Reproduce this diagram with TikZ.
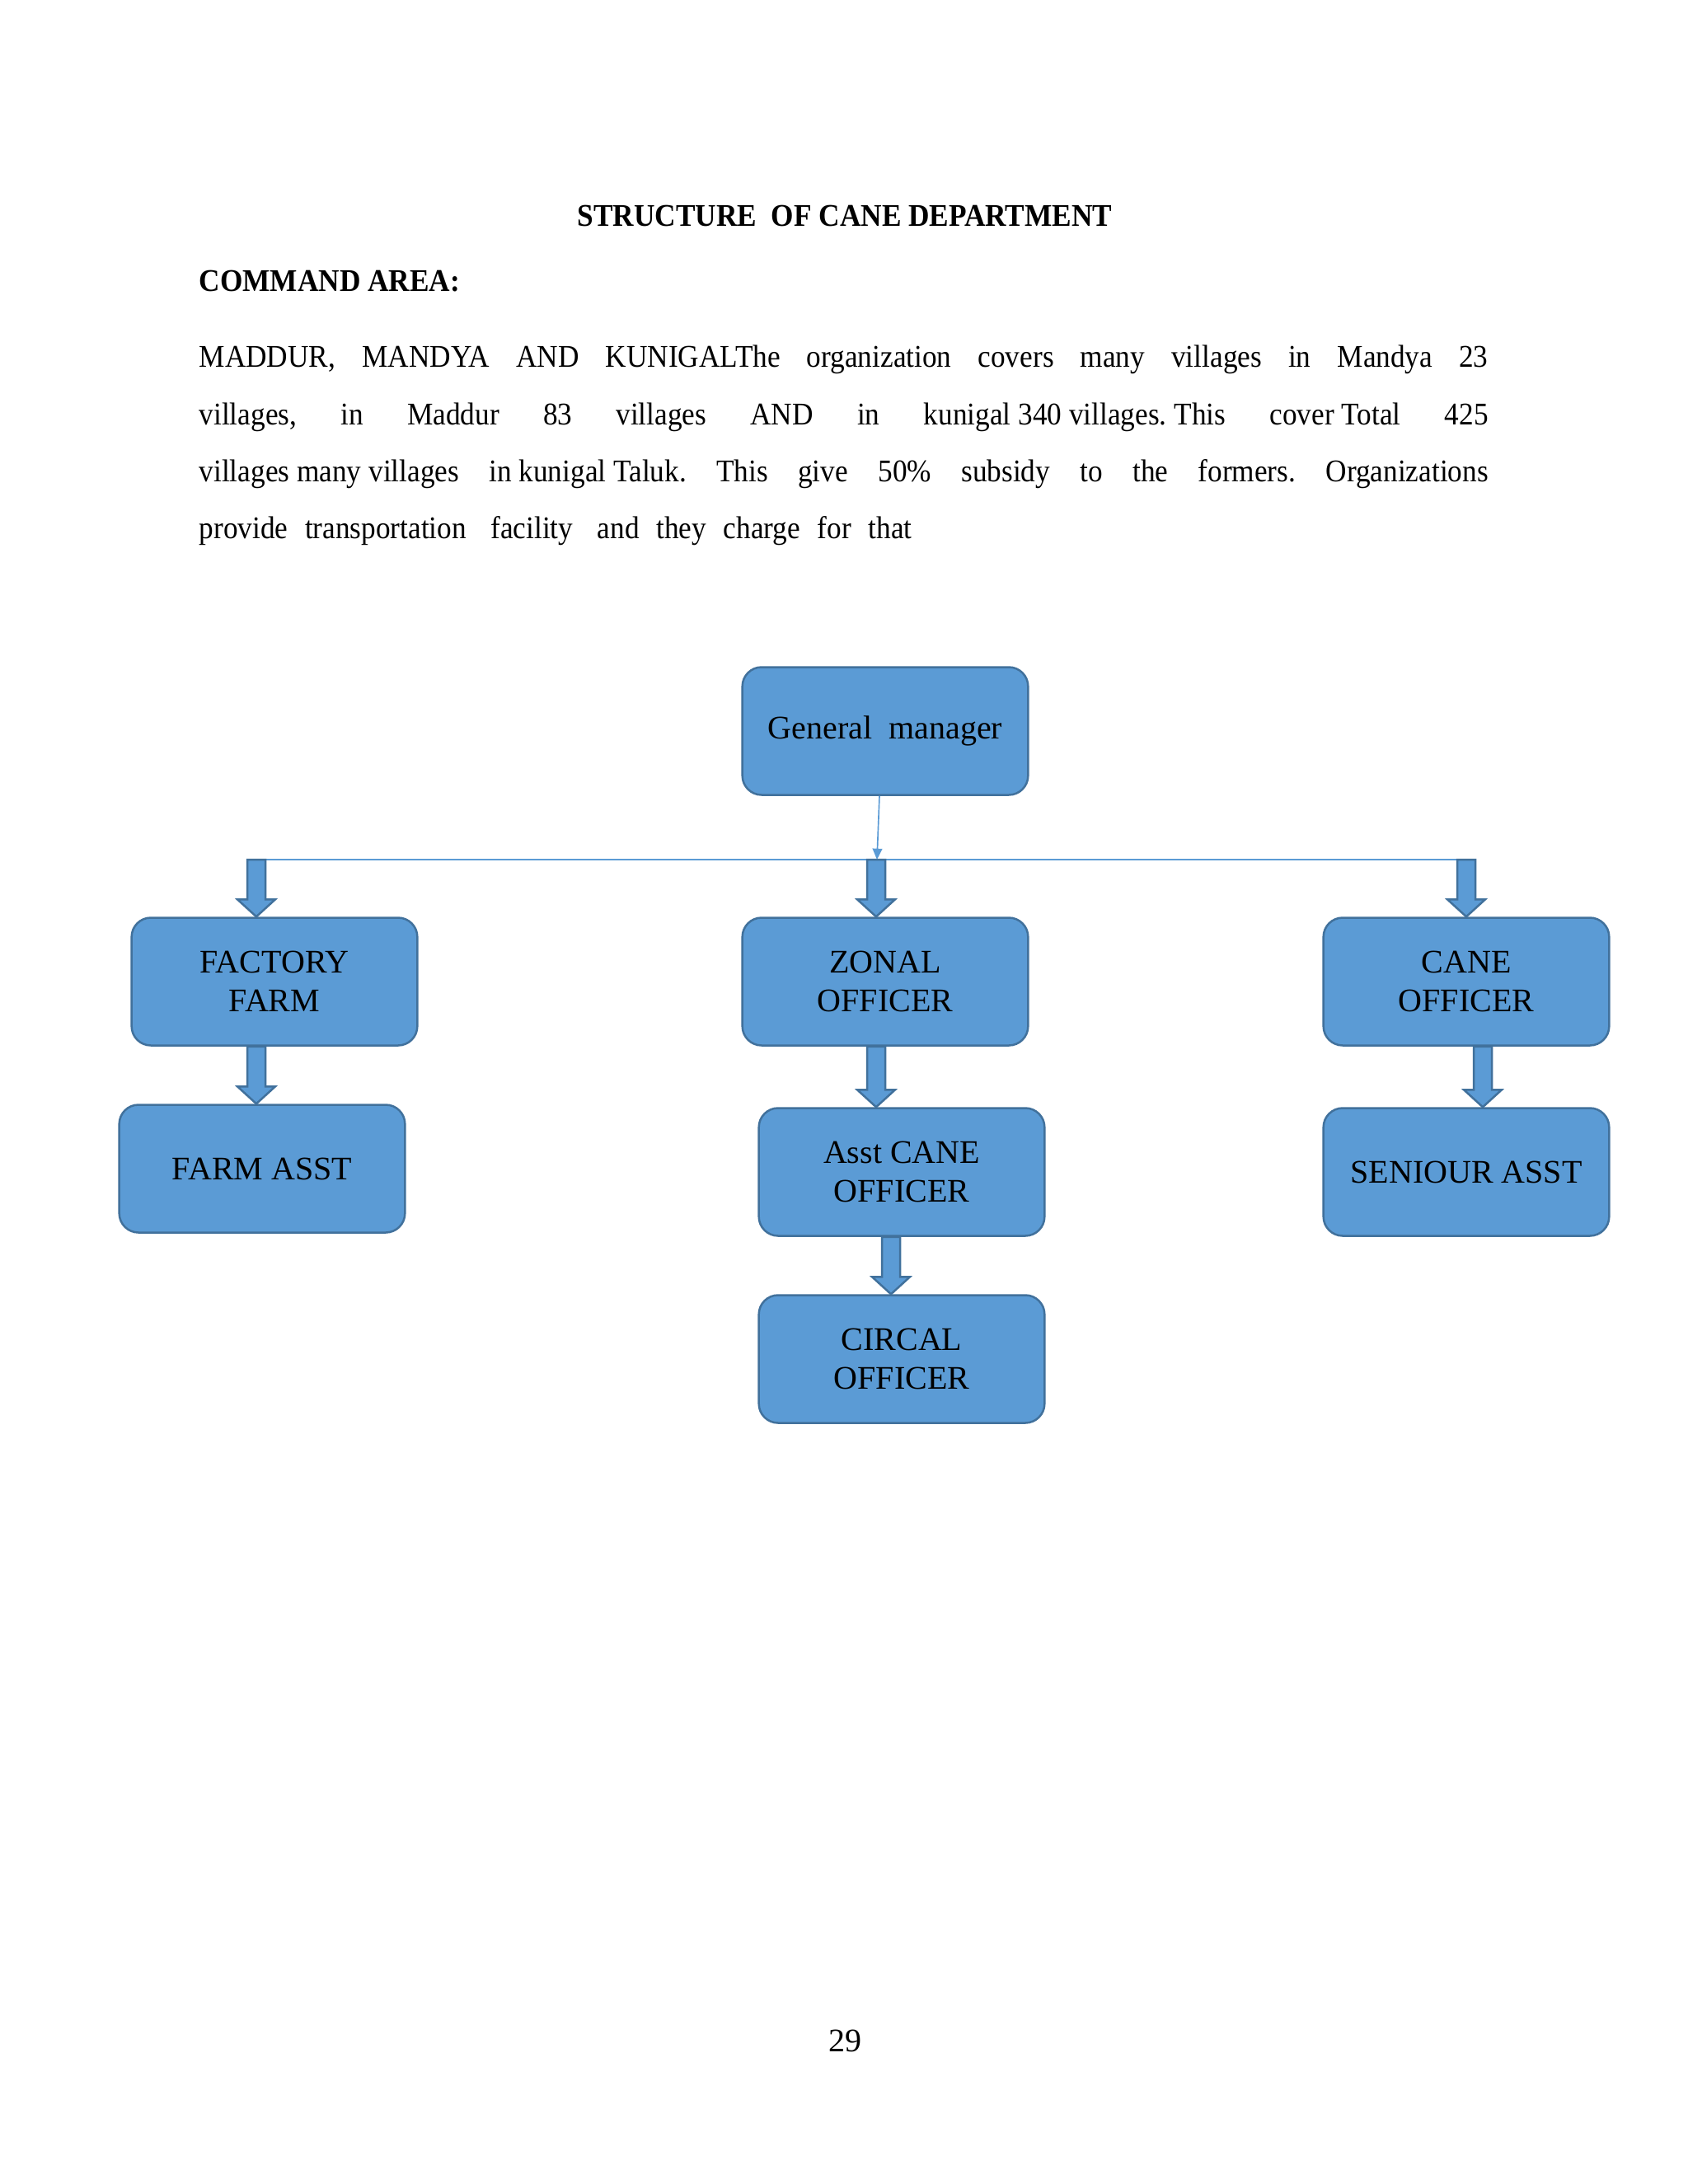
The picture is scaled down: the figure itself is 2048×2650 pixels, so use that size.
\documentclass[tikz,border=0pt]{standalone}
\usepackage{fontspec}
\setmainfont{Liberation Serif}
\usetikzlibrary{arrows.meta,calc}
\frenchspacing

\definecolor{boxfill}{HTML}{5B9BD5}
\definecolor{boxedge}{HTML}{41719C}

\tikzset{
  orgbox/.style={draw=boxedge, fill=boxfill, line width=.75pt, rounded corners=7pt,
    minimum width=104pt, minimum height=46.5pt, align=center, inner sep=2pt,
    font=\fontsize{12}{14}\selectfont},
  blockarr/.style={draw=boxedge, fill=boxfill, line width=.75pt, line join=miter},
  busline/.style={draw=boxfill, line width=.5pt},
  thinarr/.style={draw=boxfill, line width=.5pt, -{Triangle[length=4pt,width=3.5pt]}},
  headline/.style={inner sep=0pt, font=\fontsize{11.5}{14}\selectfont\bfseries},
  bodyline/.style={anchor=base west, inner sep=0pt, font=\fontsize{11.5}{14}\selectfont},
}

\newcommand\narrowtext[1]{\scalebox{.92}[1]{#1}}
\newcommand\tsp{\hspace{.25em}}
\newcommand\blockarrow[2]{%
  \draw[blockarr] let \p1=(#1), \p2=(#2) in
    (\x1-3.3pt,\y1) -- (\x1-3.3pt,\y2+6.3pt) -- (\x1-6.9pt,\y2+6.3pt)
    -- (\x1,\y2) -- (\x1+6.9pt,\y2+6.3pt) -- (\x1+3.3pt,\y2+6.3pt)
    -- (\x1+3.3pt,\y1) -- cycle;}

\begin{document}
\begin{tikzpicture}[x=0.3pt, y=-0.3pt]
  \fill[white] (0,0) rectangle (2048,2650);
  \useasboundingbox (0,0) rectangle (2048,2650);

  \node[headline, anchor=base] (title) at (1025,274)
    {\narrowtext{STRUCTURE\ \ OF CANE DEPARTMENT}};
  \node[headline, anchor=base west] (area) at (241,353)
    {\narrowtext{COMMAND AREA:}};

  \node[bodyline] (line1) at (241,445) {\narrowtext{\makebox[510pt][s]{MADDUR, MANDYA AND KUNIGALThe organization covers many villages in Mandya 23}}};
  \node[bodyline] (line2) at (241,515) {\narrowtext{\makebox[510pt][s]{villages, in Maddur 83 villages AND in kunigal\tsp 340\tsp villages.\tsp This cover\tsp Total 425}}};
  \node[bodyline] (line3) at (241,584) {\narrowtext{\makebox[510pt][s]{villages\tsp many\tsp villages in\tsp kunigal\tsp Taluk. This give 50\% subsidy to the formers. Organizations}}};
  \node[bodyline] (line4) at (241,653) {\narrowtext{\makebox[282pt][s]{provide transportation \tsp facility \tsp and they charge for that}}};

  \node[orgbox] (gm) at (1074,887) {General\ \ manager};
  \node[orgbox] (ff) at (333,1191) {FACTORY\\FARM};
  \node[orgbox] (fa) at (318,1418) {FARM ASST};
  \node[orgbox] (zo) at (1074,1191) {ZONAL\\OFFICER};
  \node[orgbox] (ac) at (1094,1422) {Asst CANE\\OFFICER};
  \node[orgbox] (co) at (1094,1649) {CIRCAL\\OFFICER};
  \node[orgbox] (ca) at (1779,1191) {CANE\\OFFICER};
  \node[orgbox] (sa) at (1779,1422) {SENIOUR ASST};

  \coordinate (bus-l) at (311,1043);
  \coordinate (bus-m) at (1064,1043);
  \coordinate (bus-z) at (1063,1043);
  \coordinate (bus-r) at (1779,1043);
  \coordinate (gm-out) at ($(gm.south)+(-7,0)$);

  \draw[busline] (bus-l) -- (bus-r);
  \draw[thinarr] (gm-out) -- (bus-m);

  \blockarrow{bus-l}{ff.north}
  \blockarrow{$(ff.south)+(-22,0)$}{fa.north}
  \blockarrow{bus-z}{zo.north}
  \blockarrow{$(zo.south)+(-11,0)$}{ac.north}
  \blockarrow{$(ac.south)+(-13,0)$}{co.north}
  \blockarrow{bus-r}{ca.north}
  \blockarrow{$(ca.south)+(20,0)$}{sa.north}

  \node[anchor=base, font=\fontsize{12}{14}\selectfont] (pgnum) at (1025,2489) {29};
\end{tikzpicture}
\end{document}
